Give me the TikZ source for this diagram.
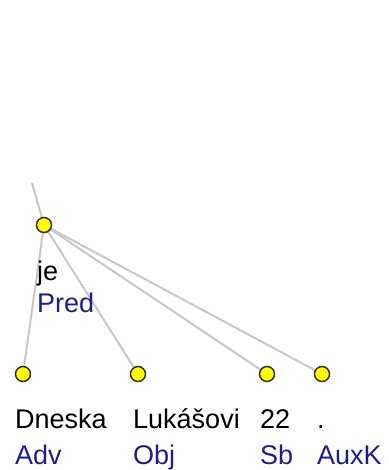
\documentclass[tikz,border=0pt]{standalone}
\usepackage{fontspec}
\setmainfont{Liberation Sans}
\definecolor{edgegray}{RGB}{200,200,200}
\definecolor{labblue}{RGB}{30,30,140}
\definecolor{nodeyellow}{RGB}{255,255,0}
\tikzset{
  tnode/.style={circle,draw=black!80,line width=1.5pt,fill=nodeyellow,minimum size=15pt,inner sep=0pt},
  edge/.style={draw=edgegray,line width=2pt},
  word/.style={anchor=base west,inner sep=0pt,text=black,font=\fontsize{27}{32}\selectfont},
  afun/.style={anchor=base west,inner sep=0pt,text=labblue,font=\fontsize{27}{32}\selectfont}
}
\begin{document}
\begin{tikzpicture}[x=1pt,y=-1pt]
\useasboundingbox (0,0) rectangle (388,470);
\coordinate (top) at (32,183);
\coordinate (pje) at (44,225);
\coordinate (pd) at (23,374);
\coordinate (pl) at (138,374);
\coordinate (ps) at (267,374);
\coordinate (pk) at (322,374);
\draw[edge] (top) -- (pje);
\draw[edge] (pje) -- (pd);
\draw[edge] (pje) -- (pl);
\draw[edge] (pje) -- (ps);
\draw[edge] (pje) -- (pk);
\node[tnode] (je) at (pje) {};
\node[tnode] (dn) at (pd) {};
\node[tnode] (lu) at (pl) {};
\node[tnode] (sb) at (ps) {};
\node[tnode] (ax) at (pk) {};
\node[word] (wje) at (37,280) {je};
\node[afun] (aje) at (37,312) {Pred};
\node[word] (wdn) at (15,428) {Dneska};
\node[afun] (adn) at (15,464) {Adv};
\node[word] (wlu) at (133,428) {Lukášovi};
\node[afun] (alu) at (133,464) {Obj};
\node[word] (wsb) at (260,428) {22};
\node[afun] (asb) at (260,464) {Sb};
\node[word] (wax) at (317,428) {.};
\node[afun] (aax) at (317,464) {AuxK};
\end{tikzpicture}
\end{document}
